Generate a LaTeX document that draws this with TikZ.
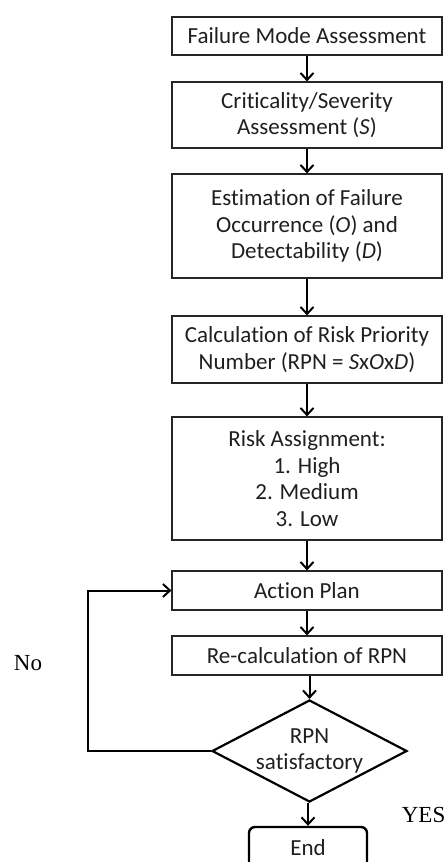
\documentclass[tikz,border=0pt]{standalone}
\usepackage{fontspec}
\setmainfont[Ligatures=NoCommon]{Carlito}
\newfontfamily\serifx{Liberation Serif}
\usetikzlibrary{shapes.geometric,arrows.meta}
\begin{document}
\begin{tikzpicture}[x=1pt,y=-1pt,
  txt/.style={text=black!88, font=\fontsize{23}{26.7}\selectfont},
  box/.style={txt, draw=black!85, line width=1.2pt, minimum width=270pt, align=center, inner sep=0pt},
  arr/.style={line width=2pt, -{Straight Barb[length=7pt,width=13pt]}},
  lbl/.style={font=\serifx\fontsize{23}{26}\selectfont, inner sep=0pt},
]
\useasboundingbox (0,0) rectangle (446,862);
\node[box, minimum height=38pt]  (b1) at (307,36)    {Failure Mode Assessment};
\node[box, minimum height=66pt]  (b2) at (307,115)   {Criticality/Severity\\Assessment (\textit{S})};
\node[box, minimum height=104pt] (b3) at (307,226)   {Estimation of Failure\\Occurrence (\textit{O}) and\\Detectability (\textit{D})};
\node[box, minimum height=67pt]  (b4) at (307,349.5) {Calculation of Risk Priority\\Number (RPN = \textit{S}x\textit{O}x\textit{D})};
\node[box, minimum height=123pt] (b5) at (307,478.5) {Risk Assignment:\\1. High\\2. Medium\\3. Low};
\node[box, minimum height=39pt]  (b6) at (307,590.5) {Action Plan};
\node[box, minimum height=39pt]  (b7) at (307,655.5) {Re-calculation of RPN};
\node[txt, diamond, draw=black, line width=2.2pt, minimum width=195pt, minimum height=102pt, inner sep=-14pt, align=center] (d) at (309.5,751) {RPN\\satisfactory};
\node[txt, draw=black, line width=2.4pt, rounded corners=6pt, minimum width=118pt, minimum height=42pt, inner sep=0pt] (e) at (308,848) {End};
\coordinate (c1) at (88,751);
\coordinate (c2) at (88,590.5);
\node[lbl] (no) at (28,663) {No};
\node[lbl, anchor=east] (yes) at (445.5,815) {YES};
\draw[arr] (b1) -- (b2);
\draw[arr] (b2) -- (b3);
\draw[arr] (b3) -- (b4);
\draw[arr] (b4) -- (b5);
\draw[arr] (b5) -- (b6);
\draw[arr] (b6) -- (b7);
\draw[arr] (b7.south -| d.north) -- (d.north);
\draw[arr] (d.south -| e.north) -- (e.north);
\draw[arr] (d.west) -- (c1) -- (c2) -- (b6.west);
\end{tikzpicture}
\end{document}
